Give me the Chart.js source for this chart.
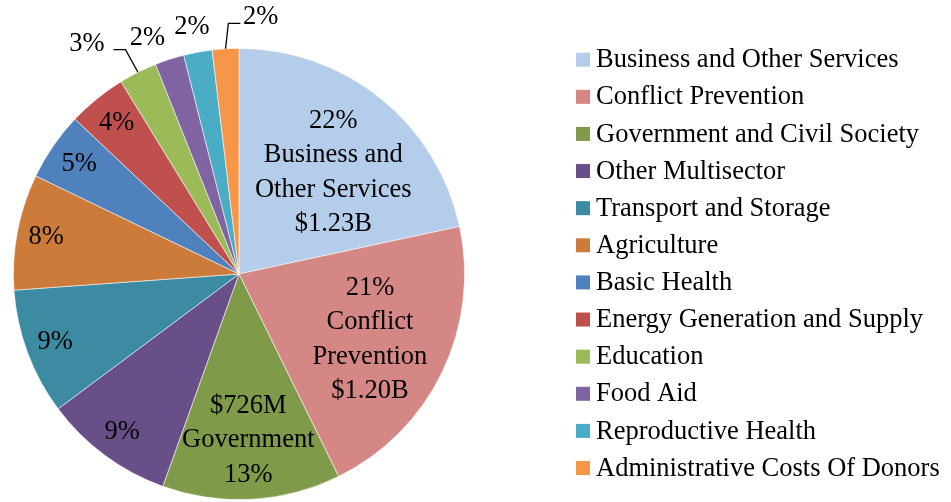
<!DOCTYPE html>
<html>
<head>
<meta charset="utf-8">
<script src="https://cdn.jsdelivr.net/npm/chart.js@4"></script>
<style>
    html, body { margin: 0; padding: 0; background: #fff; }
    #wrap { width: 951px; height: 502px; }
</style>
</head>
<body>
<div id="wrap"><canvas id="pie" width="951" height="502"></canvas></div>
<script>
// sectors, in drawing order (clockwise from 12 o'clock)
const sectors = [
    'Business and Other Services', 'Conflict Prevention', 'Government and Civil Society',
    'Other Multisector', 'Transport and Storage', 'Agriculture', 'Basic Health',
    'Energy Generation and Supply', 'Education', 'Food Aid', 'Reproductive Health',
    'Administrative Costs Of Donors'
];
// amounts in $M
const amounts = [1230, 1200, 726, 530, 515, 472, 278, 239, 155, 119, 116, 108];
const sliceColors = [
    '#b4cdea', '#d48784', '#7f9b49', '#684f87', '#3c8ba2', '#cd7b3a',
    '#4f81bd', '#c0504d', '#9bbb59', '#8064a2', '#4bacc6', '#f79646'
];
// what each data label shows
const labelParts = [
    ['pct', 'Business and', 'Other Services', 'amt'],
    ['pct', 'Conflict', 'Prevention', 'amt'],
    ['amt', 'Government', 'pct'],
    ['pct'], ['pct'], ['pct'], ['pct'], ['pct'], ['pct'], ['pct'], ['pct'], ['pct']
];

const FONT = '26.5px "Liberation Serif", "Times New Roman", serif';
const total = amounts.reduce((a, b) => a + b, 0);

function money(v) {
    return v >= 1000 ? '$' + (v / 1000).toFixed(2) + 'B' : '$' + v + 'M';
}

// inside labels: fraction of radius along the slice middle, plus a small nudge
const insideRadius = [0.63, 0.635, 0.73, 0.87, 0.87, 0.87, 0.86, 0.86];
const insideNudge = { 0: [5, 9], 1: [2, 3], 2: [0, 2] };
// outside labels: offset from the slice's outer edge point, optional leader elbow
const outside = {
    8:  { text: [-51, -28], leader: [[-12.4, -22.6], [-24.4, -22.6]] },
    9:  { text: [-22, -21] },
    10: { text: [-6, -25] },
    11: { text: [35, -32], leader: [[2.8, -25.4], [14.8, -25.4]] }
};

const labelPlugin = {
    id: 'sliceLabels',
    afterDatasetsDraw(chart) {
        const ctx = chart.ctx;
        const meta = chart.getDatasetMeta(0);
        ctx.save();
        ctx.font = FONT;
        ctx.fillStyle = '#000';
        ctx.textAlign = 'center';
        ctx.textBaseline = 'middle';
        meta.data.forEach((arc, i) => {
            const mid = (arc.startAngle + arc.endAngle) / 2;
            const R = arc.outerRadius;
            const lines = labelParts[i].map(p => {
                if (p === 'pct') return Math.round(amounts[i] / total * 100) + '%';
                if (p === 'amt') return money(amounts[i]);
                return p;
            });
            const lh = 34.5;
            if (outside[i]) {
                const ex = arc.x + Math.cos(mid) * R;
                const ey = arc.y + Math.sin(mid) * R;
                const o = outside[i];
                if (o.leader) {
                    ctx.beginPath();
                    ctx.strokeStyle = '#000';
                    ctx.lineWidth = 1.3;
                    ctx.moveTo(ex, ey);
                    o.leader.forEach(p => ctx.lineTo(ex + p[0], ey + p[1]));
                    ctx.stroke();
                }
                ctx.fillText(lines[0], ex + o.text[0], ey + o.text[1]);
                return;
            }
            const k = insideRadius[i];
            const nudge = insideNudge[i] || [0, 0];
            const cx = arc.x + Math.cos(mid) * R * k + nudge[0];
            const cy = arc.y + Math.sin(mid) * R * k + nudge[1];
            const y0 = cy - (lines.length - 1) * lh / 2;
            lines.forEach((t, j) => ctx.fillText(t, cx, y0 + j * lh));
        });
        ctx.restore();
    }
};

const legendPlugin = {
    id: 'sideLegend',
    afterDraw(chart) {
        const ctx = chart.ctx;
        const ds = chart.data.datasets[0];
        ctx.save();
        ctx.font = FONT;
        ctx.textAlign = 'left';
        ctx.textBaseline = 'alphabetic';
        chart.data.labels.forEach((name, i) => {
            const y = 59.7 + i * 37.12;
            ctx.fillStyle = ds.backgroundColor[i];
            ctx.fillRect(576, y - 7, 14, 14);
            ctx.fillStyle = '#000';
            ctx.fillText(name, 596, y + 7.6);
        });
        ctx.restore();
    }
};

new Chart(document.getElementById('pie'), {
    type: 'pie',
    data: {
        labels: sectors,
        datasets: [{
            data: amounts,
            backgroundColor: sliceColors,
            borderColor: 'rgba(255, 255, 255, 0.7)',
            borderWidth: 0.8
        }]
    },
    options: {
        responsive: false,
        animation: false,
        devicePixelRatio: 1,
        events: [],
        layout: {
            padding: { left: 13, right: 486, top: 48, bottom: 2 }
        },
        plugins: {
            legend: { display: false },
            tooltip: { enabled: false }
        }
    },
    plugins: [labelPlugin, legendPlugin]
});
</script>
</body>
</html>
